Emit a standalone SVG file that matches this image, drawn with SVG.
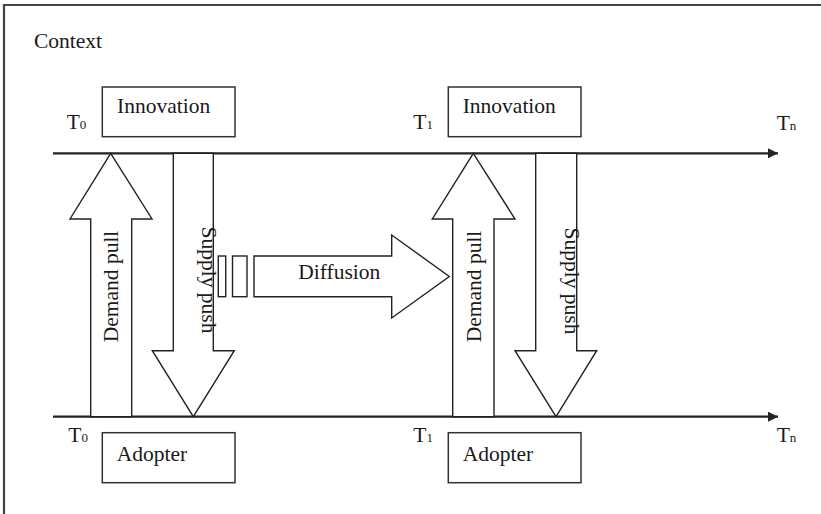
<svg xmlns="http://www.w3.org/2000/svg" width="821" height="514" viewBox="0 0 821 514">
<style>
text{font-size:21.5px;fill:#1a1a1a}
.sub{font-size:13px}
.box{fill:#fff;stroke:#333;stroke-width:1.5}
.arr{fill:#fff;stroke:#222;stroke-width:1.4;stroke-linejoin:miter}
.axis{stroke:#222;stroke-width:2.2;fill:none}
.frame{stroke:#444;stroke-width:2.2;fill:none}
</style>
<defs>
<marker id="ah" markerWidth="12" markerHeight="10" refX="10" refY="5" orient="auto" markerUnits="userSpaceOnUse">
<path d="M0,0 L10,5 L0,10 Z" fill="#222"/>
</marker>
</defs>
<rect width="821" height="514" fill="#fff"/>
<g font-family="'Liberation Serif', 'Times New Roman', 'DejaVu Serif', serif">
<g id="frame">
<path class="frame" d="M4,514 V5 H821"/>
<text x="34" y="48">Context</text>
</g>
<g id="connectors">
<line class="axis" x1="53" y1="153.3" x2="778" y2="153.3" marker-end="url(#ah)"/>
<line class="axis" x1="53" y1="416.7" x2="778" y2="416.7" marker-end="url(#ah)"/>
</g>
<g id="labels-time">
<text x="66.7" y="129">T<tspan class="sub">0</tspan></text>
<text x="413.3" y="129">T<tspan class="sub">1</tspan></text>
<text x="776.7" y="130">T<tspan class="sub">n</tspan></text>
<text x="68.3" y="442">T<tspan class="sub">0</tspan></text>
<text x="413.3" y="442">T<tspan class="sub">1</tspan></text>
<text x="776.7" y="442">T<tspan class="sub">n</tspan></text>
</g>
<g id="innovation1">
<rect class="box" x="102.3" y="87" width="132.7" height="49.7"/>
<text x="117" y="113">Innovation</text>
</g>
<g id="innovation2">
<rect class="box" x="448.3" y="87" width="132.7" height="49.7"/>
<text x="462.7" y="113">Innovation</text>
</g>
<g id="adopter1">
<rect class="box" x="102.3" y="432.7" width="132.7" height="50"/>
<text x="116.7" y="460.7">Adopter</text>
</g>
<g id="adopter2">
<rect class="box" x="448.3" y="432.7" width="132.7" height="50"/>
<text x="462.7" y="460.7">Adopter</text>
</g>
<g id="demand1">
<polygon class="arr" points="110.7,153.3 152,219 131.7,219 131.7,416.7 90.7,416.7 90.7,219 70,219"/>
<text transform="translate(118,286.5) rotate(-90)" text-anchor="middle">Demand pull</text>
</g>
<g id="supply1">
<polygon class="arr" points="173.3,153.3 213.3,153.3 213.3,350.7 234.3,350.7 193.3,416.7 152.3,350.7 173.3,350.7"/>
<text transform="translate(202,280) rotate(90)" text-anchor="middle">Supply push</text>
</g>
<g id="demand2">
<polygon class="arr" points="473.3,153.3 515,219 494,219 494,416.7 452.7,416.7 452.7,219 432.3,219"/>
<text transform="translate(481,286.5) rotate(-90)" text-anchor="middle">Demand pull</text>
</g>
<g id="supply2">
<polygon class="arr" points="535.7,153.3 576.7,153.3 576.7,350.7 596.7,350.7 556,416.7 515,350.7 535.7,350.7"/>
<text transform="translate(565,281) rotate(90)" text-anchor="middle">Supply push</text>
</g>
<g id="diffusion">
<rect class="arr" x="218.3" y="256" width="7.4" height="40.7"/>
<rect class="arr" x="232.5" y="256" width="14.5" height="40.7"/>
<polygon class="arr" points="254,256 391.7,256 391.7,235 449.3,276.5 391.7,318 391.7,296.7 254,296.7"/>
<text x="298.3" y="279.3">Diffusion</text>
</g>
</g>
</svg>
